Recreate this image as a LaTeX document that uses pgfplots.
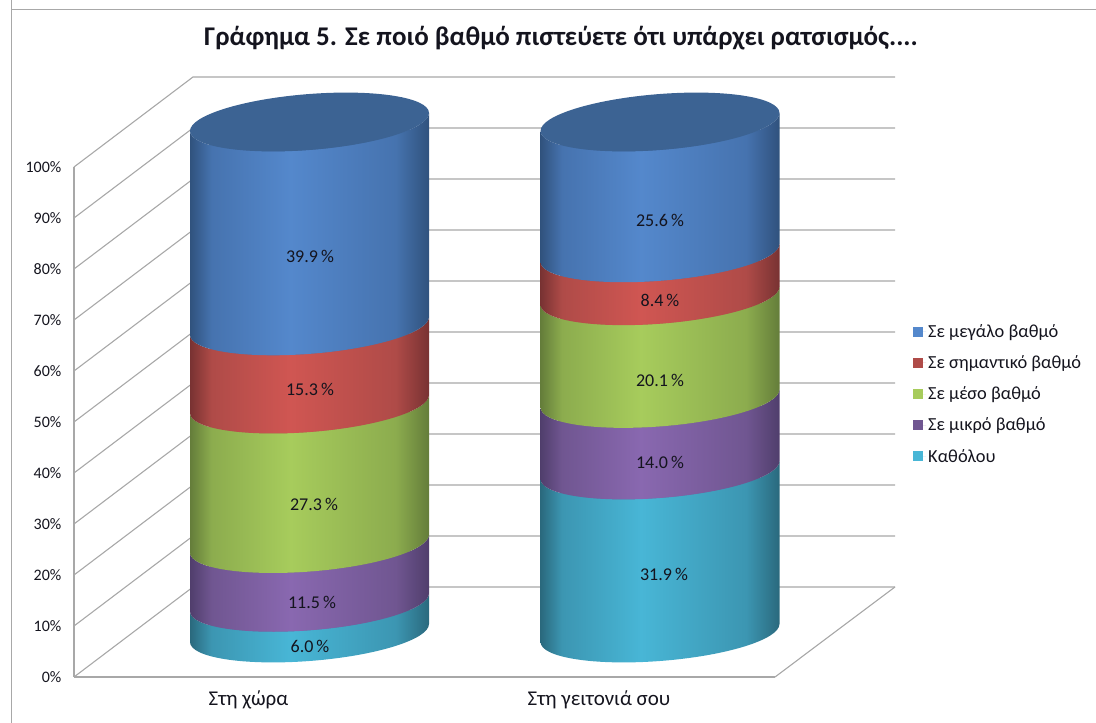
\documentclass[border=0pt]{standalone}
\usepackage{fontspec}
\setmainfont{Carlito}
\usepackage{pgfplots}
\usepackage{pgfplotstable}
\pgfplotsset{compat=1.18}

% ---------- data: stacked shares per cylinder
\pgfplotstableread{
x     kath mikro meso simantiko megalo
309.5 6.0  11.5  27.3 15.3      39.9
660   31.9 14.0  20.1 8.4       25.6
}\cyldata

% ---------- colours and cylinder shadings
\newcommand\MakeCyl[4]{%
  \definecolor{#1D}{RGB}{#2}\definecolor{#1M}{RGB}{#3}\definecolor{#1L}{RGB}{#4}%
  \pgfdeclarehorizontalshading{cyl#1}{100bp}{color(0bp)=(#1D); color(25bp)=(#1D); color(29.5bp)=(#1M); color(46bp)=(#1L); color(68bp)=(#1M); color(75bp)=(#1D); color(100bp)=(#1D)}%
}
\MakeCyl{blu}{48,82,125}{70,115,175}{84,136,204}
\MakeCyl{red}{120,50,50}{175,75,72}{208,86,82}
\MakeCyl{grn}{100,125,58}{140,172,78}{167,204,92}
\MakeCyl{pur}{80,62,108}{112,86,145}{137,104,176}
\MakeCyl{tea}{42,105,125}{60,150,178}{72,182,214}
\definecolor{topblue}{RGB}{60,99,147}
\definecolor{wallgray}{RGB}{168,168,168}
\definecolor{txt}{RGB}{20,20,30}

% ---------- curved faces, driven by the same table
\def\ca{119.5pt}\def\ck{9pt}\def\cb{28pt}
\def\caa{66pt}\def\ckk{4.97pt}\def\cbb{15.46pt}
\newcommand\SegFace[3]{% shading, bottom coord, top coord
  \path[shading=#1,shading angle=0]
    ([shift={(-\ca,-\ck)}]#2)
    .. controls +(0,-\cbb) and +(-\caa,-\ckk) .. ++(\ca,\ck-\cb)
    .. controls +(\caa,\ckk) and +(0,-\cbb) .. ++(\ca,\ck+\cb)
    -- ([shift={(\ca,\ck)}]#3)
    .. controls +(0,-\cbb) and +(\caa,\ckk) .. ++(-\ca,-\ck-\cb)
    .. controls +(-\caa,-\ckk) and +(0,-\cbb) .. ++(-\ca,\cb-\ck)
    -- cycle;}
\newcommand\TopFace[1]{%
  \fill[topblue]
    ([shift={(\ca,\ck)}]#1)
    .. controls +(0,\cbb) and +(\caa,\ckk) .. ++(-\ca,\cb-\ck)
    .. controls +(-\caa,-\ckk) and +(0,\cbb) .. ++(-\ca,-\ck-\cb)
    .. controls +(0,-\cbb) and +(-\caa,-\ckk) .. ++(\ca,\ck-\cb)
    .. controls +(\caa,\ckk) and +(0,-\cbb) .. ++(\ca,\ck+\cb)
    -- cycle;}
\newcommand\CylFaces[1]{% table row
  \pgfplotstablegetelem{#1}{x}\of\cyldata\let\cx\pgfplotsretval
  \def\cum{0}%
  \coordinate (B) at (axis cs:\cx,0);
  \StepFace{#1}{kath}{cyltea}\StepFace{#1}{mikro}{cylpur}\StepFace{#1}{meso}{cylgrn}%
  \StepFace{#1}{simantiko}{cylred}\StepFace{#1}{megalo}{cylblu}%
  \TopFace{B}}
\newcommand\StepFace[3]{%
  \pgfplotstablegetelem{#1}{#2}\of\cyldata
  \pgfmathsetmacro\cum{\cum+\pgfplotsretval}%
  \coordinate (T) at (axis cs:\cx,\cum);
  \SegFace{#3}{B}{T}%
  \coordinate (B) at (T);}

\pgfplotsset{
  canvas/.style={scale only axis,width=1096pt,height=511pt,at={(0pt,90pt)},anchor=south west,
    xmin=0,xmax=1096,ymin=0,ymax=100,hide axis,clip=false},
}
\begin{document}
\begin{tikzpicture}[x=1pt,y=1pt]
\path[use as bounding box] (0,0) rectangle (1096,723);
\draw[color=wallgray,line width=1pt] (11,723) -- (11,713) -- (1096,713);
\draw[color=wallgray,line width=1pt] (11,713) -- (11,0);

% ---------- walls, floor and value axis
\begin{axis}[
  scale only axis,width=701pt,height=510pt,at={(74pt,46pt)},anchor=south west,
  xmin=74,xmax=775,ymin=0,ymax=100,clip=false,
  axis x line=bottom,axis y line=left,
  axis line style={-,color=wallgray,line width=1.3pt},
  tick style={draw=none},
  xtick={248.5,599},xticklabels={Στη χώρα,Στη γειτονιά σου},
  x tick label style={font=\fontsize{21}{23}\selectfont,text=txt,yshift=-8pt},
  ytick={0,10,...,100},
  yticklabels={0\%,10\%,20\%,30\%,40\%,50\%,60\%,70\%,80\%,90\%,100\%},
  y tick label style={font=\fontsize{16}{18}\selectfont,text=txt,xshift=-7pt},
]
\addplot[color=wallgray,line width=1.1pt] coordinates {(74,0) (193,17.65) (895,17.65)};
\addplot[color=wallgray,line width=1.1pt] coordinates {(74,10) (193,27.65) (895,27.65)};
\addplot[color=wallgray,line width=1.1pt] coordinates {(74,20) (193,37.65) (895,37.65)};
\addplot[color=wallgray,line width=1.1pt] coordinates {(74,30) (193,47.65) (895,47.65)};
\addplot[color=wallgray,line width=1.1pt] coordinates {(74,40) (193,57.65) (895,57.65)};
\addplot[color=wallgray,line width=1.1pt] coordinates {(74,50) (193,67.65) (895,67.65)};
\addplot[color=wallgray,line width=1.1pt] coordinates {(74,60) (193,77.65) (895,77.65)};
\addplot[color=wallgray,line width=1.1pt] coordinates {(74,70) (193,87.65) (895,87.65)};
\addplot[color=wallgray,line width=1.1pt] coordinates {(74,80) (193,97.65) (895,97.65)};
\addplot[color=wallgray,line width=1.1pt] coordinates {(74,90) (193,107.65) (895,107.65)};
\addplot[color=wallgray,line width=1.1pt] coordinates {(74,100) (193,117.65) (895,117.65)};
\addplot[color=wallgray,line width=1.1pt] coordinates {(775,0) (895,17.65)};
\end{axis}

% ---------- stacked cylinders
\begin{axis}[canvas,ybar stacked,bar width=200pt]
\addplot[draw=none,fill=teaM] table[x=x,y=kath]{\cyldata};
\addplot[draw=none,fill=purM] table[x=x,y=mikro]{\cyldata};
\addplot[draw=none,fill=grnM] table[x=x,y=meso]{\cyldata};
\addplot[draw=none,fill=redM] table[x=x,y=simantiko]{\cyldata};
\addplot[draw=none,fill=bluM] table[x=x,y=megalo]{\cyldata};
\end{axis}

% ---------- curved faces of the same stacks
\begin{axis}[canvas]
\pgfplotsextra{\CylFaces{0}\CylFaces{1}}
\end{axis}

% ---------- value labels, legend, title
\begin{axis}[canvas,
  title={\textbf{Γράφημα 5. Σε ποιό βαθμό πιστεύετε ότι υπάρχει ρατσισμός....}},
  title style={at={(axis cs:561,115.2)},anchor=center,font=\fontsize{27}{30}\selectfont,text=txt},
  legend style={at={(axis cs:913,60.8)},anchor=north west,draw=none,fill=none,
    font=\fontsize{18.4}{20}\selectfont,text=txt,row sep=12.7pt,inner sep=0pt,
    legend cell align=left},
  legend image code/.code={\fill[#1] (0pt,-5pt) rectangle (10pt,5pt);\path (0pt,0pt) -- (13pt,0pt);},
  nodes near coords={\pgfplotspointmeta\,\%},
  nodes near coords align={center},
  every node near coord/.append style={font=\fontsize{18}{20}\selectfont,text=txt,inner sep=0pt},
]
\addplot[only marks,mark=none,point meta=explicit symbolic,forget plot] coordinates {
  (310,73.6)[39.9] (310,47.7)[15.3] (314,25.2)[27.3] (312,5.9)[11.5] (310,-2.7)[6.0]
  (660,80.8)[25.6] (660,65.0)[8.4] (660,49.5)[20.1] (660,33.3)[14.0] (664,11.4)[31.9]
};
\addlegendimage{fill=bluL,draw=none}\addlegendentry{Σε μεγάλο βαθμό}
\addlegendimage{fill=redM,draw=none}\addlegendentry{Σε σημαντικό βαθμό}
\addlegendimage{fill=grnL,draw=none}\addlegendentry{Σε μέσο βαθμό}
\addlegendimage{fill=purM,draw=none}\addlegendentry{Σε μικρό βαθμό}
\addlegendimage{fill=teaL,draw=none}\addlegendentry{Καθόλου}
\end{axis}
\end{tikzpicture}
\end{document}
